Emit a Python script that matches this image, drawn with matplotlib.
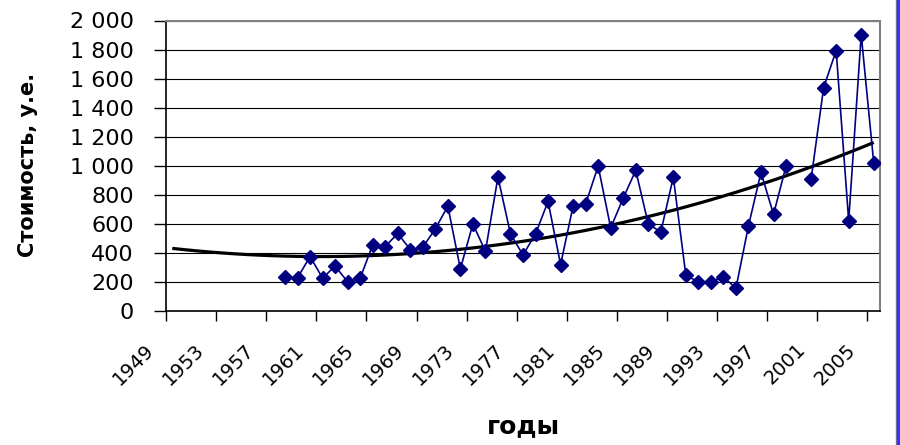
import numpy as np
import pandas as pd
import matplotlib
matplotlib.use("Agg")
import matplotlib.pyplot as plt
from matplotlib.ticker import FuncFormatter, MultipleLocator
from matplotlib.transforms import ScaledTranslation, blended_transform_factory
from matplotlib.patches import Rectangle

# ---- data ----
first_year = 1949
last_year = 2005
years = list(range(1958, 1999)) + list(range(2000, 2006))
values = [234, 228, 375, 226, 310, 200, 226, 455, 444, 534,
          423, 439, 566, 722, 290, 600, 410, 922, 531, 386,
          531, 754, 320, 722, 736, 998, 572, 777, 968, 600,
          543, 922, 246, 200, 200, 234, 157, 586, 954, 665,
          998,
          908, 1538, 1793, 621, 1903, 1019]
tick_years = list(range(1949, 2006, 4))
y_label = "Стоимость, у.е."
x_label = "годы"

all_years = list(range(first_year, last_year + 1))
series = pd.Series(values, index=years).reindex(all_years)
cat = np.arange(len(all_years)) + 0.5  # category centres

# polynomial (order 2) trend line, as Excel computes it over category numbers
mask = series.notna().values
coef = np.polyfit(cat[mask], series.values[mask], 2)
trend = np.polyval(coef, cat)

# ---- figure ----
fig = plt.figure(figsize=(9, 4.45), dpi=100)
ax = fig.add_axes([166/900, 1 - 311/445, (880-166)/900, (311-20.5)/445])

ax.plot(cat, trend, color="black", lw=2.3, zorder=2, solid_capstyle="butt")
ax.plot(cat, series.values, color="#000080", lw=1.2, marker="D",
        markersize=7, markerfacecolor="#000080", markeredgecolor="#000080",
        zorder=3)

ax.set_xlim(0, len(all_years))
ax.set_ylim(0, 2000)
ax.yaxis.set_major_locator(MultipleLocator(200))
ax.yaxis.set_major_formatter(FuncFormatter(lambda v, p: f"{int(v):,}".replace(",", " ")))
ax.grid(axis="y", color="black", lw=0.8)
ax.set_axisbelow(True)

ax.tick_params(axis="x", direction="out", length=7, width=1, colors="black")
ax.tick_params(axis="y", direction="out", length=9, width=1, pad=14, labelsize=16)

tick_pos = [y - first_year for y in tick_years]
ax.set_xticks(tick_pos)
ax.set_xticklabels([])
lab_tr = blended_transform_factory(ax.transData, ax.transAxes) + \
    ScaledTranslation(-22/100, -29/100, fig.dpi_scale_trans)
for p, y in zip(tick_pos, tick_years):
    ax.text(p, 0, str(y), transform=lab_tr, rotation=45, ha="right", va="top",
            rotation_mode="anchor", fontsize=14, clip_on=False)

for s in ("left", "bottom"):
    ax.spines[s].set_color("black")
    ax.spines[s].set_linewidth(1.2)
for s in ("top", "right"):
    ax.spines[s].set_color("#808080")
    ax.spines[s].set_linewidth(1.5)

fig.text(28/900, 1 - 165/445, y_label, rotation=90, ha="center", va="center",
         fontsize=15, fontweight="bold")
fig.text(523/900, 1 - 433/445, x_label, ha="center", va="baseline",
         fontsize=18, fontweight="bold")

# window border on the right
fig.patches.append(Rectangle((895.5/900, 0), 1/900, 1, transform=fig.transFigure,
                             color="#808080", zorder=10))
fig.patches.append(Rectangle((896.5/900, 0), 3.5/900, 1, transform=fig.transFigure,
                             color="#3333ff", zorder=10))

fig.savefig("out.png", dpi=100)
